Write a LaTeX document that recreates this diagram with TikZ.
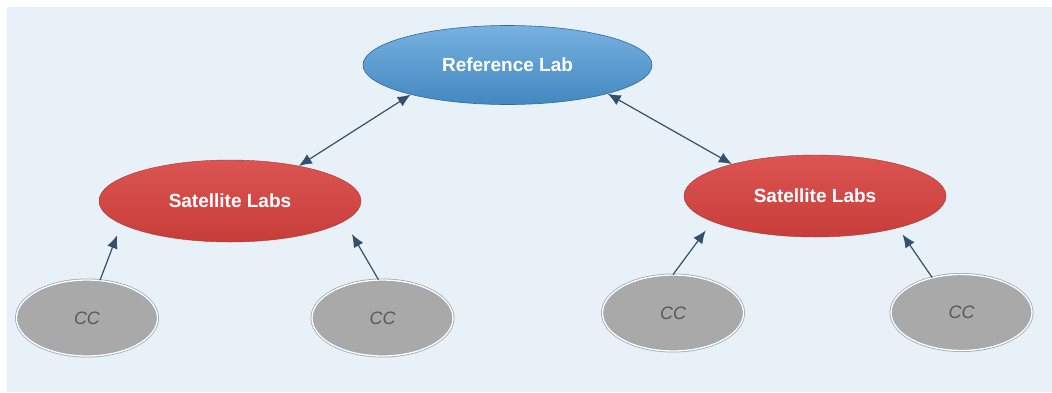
\documentclass[tikz,border=0pt]{standalone}
\usepackage{fontspec}
\setmainfont{Liberation Sans}
\usetikzlibrary{shapes.geometric,arrows.meta}
\definecolor{bgblue}{HTML}{E8F0F8}
\definecolor{labblue}{HTML}{4A97D6}
\definecolor{labred}{HTML}{D8423F}
\definecolor{ccgray}{HTML}{A9A9A9}
\definecolor{ringgray}{HTML}{9FAAB3}
\definecolor{linkcol}{HTML}{34516B}
\tikzset{
  reflab/.style={ellipse, draw=labblue!70!black, line width=0.6pt,
    top color=labblue!75!white, bottom color=labblue!90!black,
    minimum width=289pt, minimum height=79pt, inner sep=0pt,
    text=white, font=\fontsize{19}{21}\selectfont\bfseries},
  satlab/.style={ellipse, draw=labred!80!black, line width=0.4pt,
    top color=labred!90!white, bottom color=labred!92!black,
    minimum width=262pt, minimum height=82pt, inner sep=0pt,
    text=white, font=\fontsize{19}{21}\selectfont\bfseries},
  ccnode/.style={ellipse, draw=ringgray, line width=0.8pt,
    double=white, double distance=1.3pt, fill=ccgray,
    minimum width=141pt, minimum height=76pt, inner sep=0pt,
    text=black!65, font=\fontsize{18}{20}\selectfont\itshape},
  link/.style={linkcol, line width=1.2pt}
}
\begin{document}
\begin{tikzpicture}[x=1pt,y=-1pt,>={Latex[length=13pt,width=11pt]}]
\useasboundingbox (0,0) rectangle (1052,392);
% background panel
\fill[bgblue] (7,7) rectangle (1052,392);

% labs
\node[reflab] (ref) at (507.5,65) {Reference Lab};
\node[satlab] (satl) at (230,201) {Satellite Labs};
\node[satlab] (satr) at (815,196) {Satellite Labs};

% collection centres
\node[ccnode] (cc1) at (87,318) {CC};
\node[ccnode] (cc2) at (382.5,318) {CC};
\node[ccnode] (cc3) at (673,313) {CC};
\node[ccnode] (cc4) at (961.5,312.5) {CC};

% reference lab <-> satellite labs
\draw[link,<->] (ref.197) -- (satl.27);
\draw[link,<->] (ref.344) -- (satr.159);

% collection centres -> satellite labs
\draw[link,->,shorten >=12pt] (cc1.71) -- (satl.192);
\draw[link,->,shorten >=15pt] (cc2.96) -- (satl.350);
\draw[link,->,shorten >=11pt] (cc3.90) -- (satr.194);
\draw[link,->,shorten >=8pt] (cc4.130) -- (satr.339);

\end{tikzpicture}
\end{document}
